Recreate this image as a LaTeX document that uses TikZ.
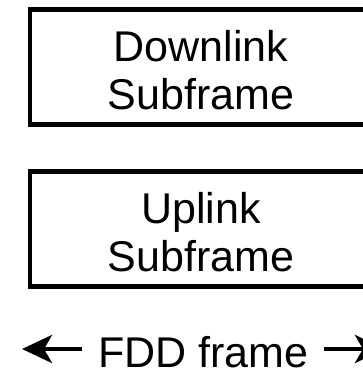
\documentclass[tikz,border=0pt]{standalone}
\usepackage{fontspec}
\setmainfont{Liberation Sans}
\usepackage{tikz}
\usetikzlibrary{arrows.meta, positioning, calc}
\definecolor{mydark}{RGB}{0,0,0}
\newcommand{\toppad}{\rule{0pt}{38pt}}
\tikzset{
  subframe/.style={rectangle, draw=mydark, fill=white, line width=4.5pt,
    minimum width=342pt, minimum height=115pt, inner sep=0pt, align=center,
    font=\fontsize{43}{48}\selectfont},
  framelabel/.style={inner sep=0pt, font=\fontsize{43}{48}\selectfont},
  farrow/.style={-{Stealth[length=30pt, width=28pt, inset=8pt]}, line width=4.5pt, color=mydark}
}
\begin{document}
\begin{tikzpicture}[x=1pt, y=-1pt]
  \useasboundingbox (0,0) rectangle (363,376);
  \clip (0,0) rectangle (363,376);

  % Subframes
  \node[subframe] (dl) at (201,67) {\toppad Downlink\\Subframe};
  \node[subframe] (ul) at (201,229) {\toppad Uplink\\Subframe};

  % Frame length
  \node[framelabel, anchor=base] (fdd) at (203.5,367) {FDD frame};
  \coordinate (lend) at (22,349);
  \coordinate (rend) at (385,349);

  \draw[farrow] ([xshift=-16pt]fdd.west |- lend) -- (lend);
  \draw[farrow] ([xshift=15pt]fdd.east |- rend) -- (rend);
\end{tikzpicture}
\end{document}
